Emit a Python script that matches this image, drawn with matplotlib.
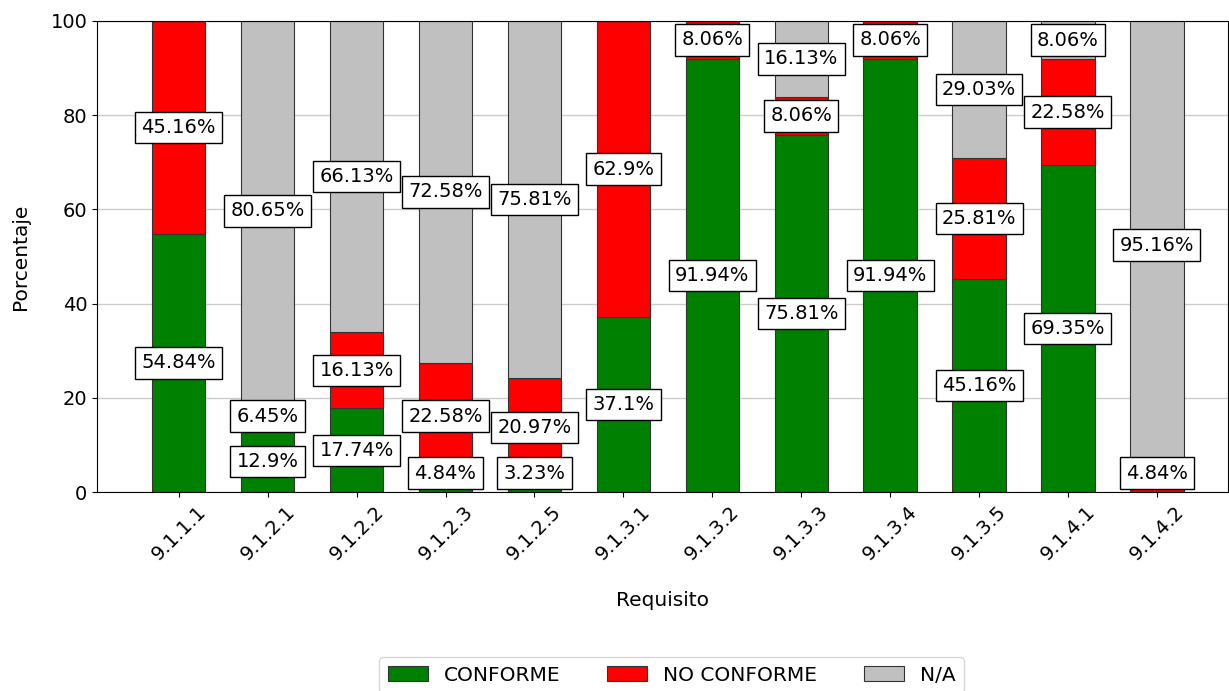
import matplotlib
matplotlib.use("Agg")
import matplotlib.pyplot as plt
import numpy as np

categories = ["9.1.1.1", "9.1.2.1", "9.1.2.2", "9.1.2.3", "9.1.2.5", "9.1.3.1",
              "9.1.3.2", "9.1.3.3", "9.1.3.4", "9.1.3.5", "9.1.4.1", "9.1.4.2"]
conforme = [54.84, 12.9, 17.74, 4.84, 3.23, 37.1, 91.94, 75.81, 91.94, 45.16, 69.35, 0]
no_conforme = [45.16, 6.45, 16.13, 22.58, 20.97, 62.9, 8.06, 8.06, 8.06, 25.81, 22.58, 4.84]
na = [0, 80.65, 66.13, 72.58, 75.81, 0, 0, 16.13, 0, 29.03, 8.06, 95.16]

series = [("CONFORME", conforme, "green"),
          ("NO CONFORME", no_conforme, "red"),
          ("N/A", na, "silver")]

plt.rcParams['font.family'] = ['DejaVu Sans']
fig = plt.figure(figsize=(12.29, 6.91), dpi=100)
ax = fig.add_axes([97/1229, 1 - 492/691, 1131/1229, 471/691])

x = np.arange(len(categories))
bottom = np.zeros(len(categories))
for name, vals, color in series:
    vals = np.array(vals, dtype=float)
    ax.bar(x, vals, 0.6, bottom=bottom, color=color, edgecolor="#333333",
           linewidth=0.8, label=name, zorder=2)
    for xi, v, b in zip(x, vals, bottom):
        if v > 0:
            y = max(b + v / 2, 4.0)
            ax.text(xi, y, f"{round(v, 2):g}%", ha="center", va="center",
                    fontsize=14, zorder=4,
                    bbox=dict(facecolor="white", edgecolor="black", pad=4.5, linewidth=1))
    bottom += vals

ax.set_ylim(0, 100)
ax.set_xlim(-0.92, 11.8)
ax.set_xticks(x)
ax.set_xticklabels(categories, rotation=45, fontsize=14)
ax.tick_params(axis="y", labelsize=14)
ax.yaxis.grid(True, color="#cccccc", linewidth=1, zorder=0)
ax.set_axisbelow(True)
ax.set_xlabel("Requisito", fontsize=14.5, labelpad=20)
ax.set_ylabel("Porcentaje", fontsize=14.5, labelpad=15)
ax.legend(loc="upper center", bbox_to_anchor=(0.508, -0.33), ncol=3, fontsize=14.5,
          columnspacing=2.3, handlelength=2.0, handleheight=0.8)

fig.savefig("out.png", dpi=100)
